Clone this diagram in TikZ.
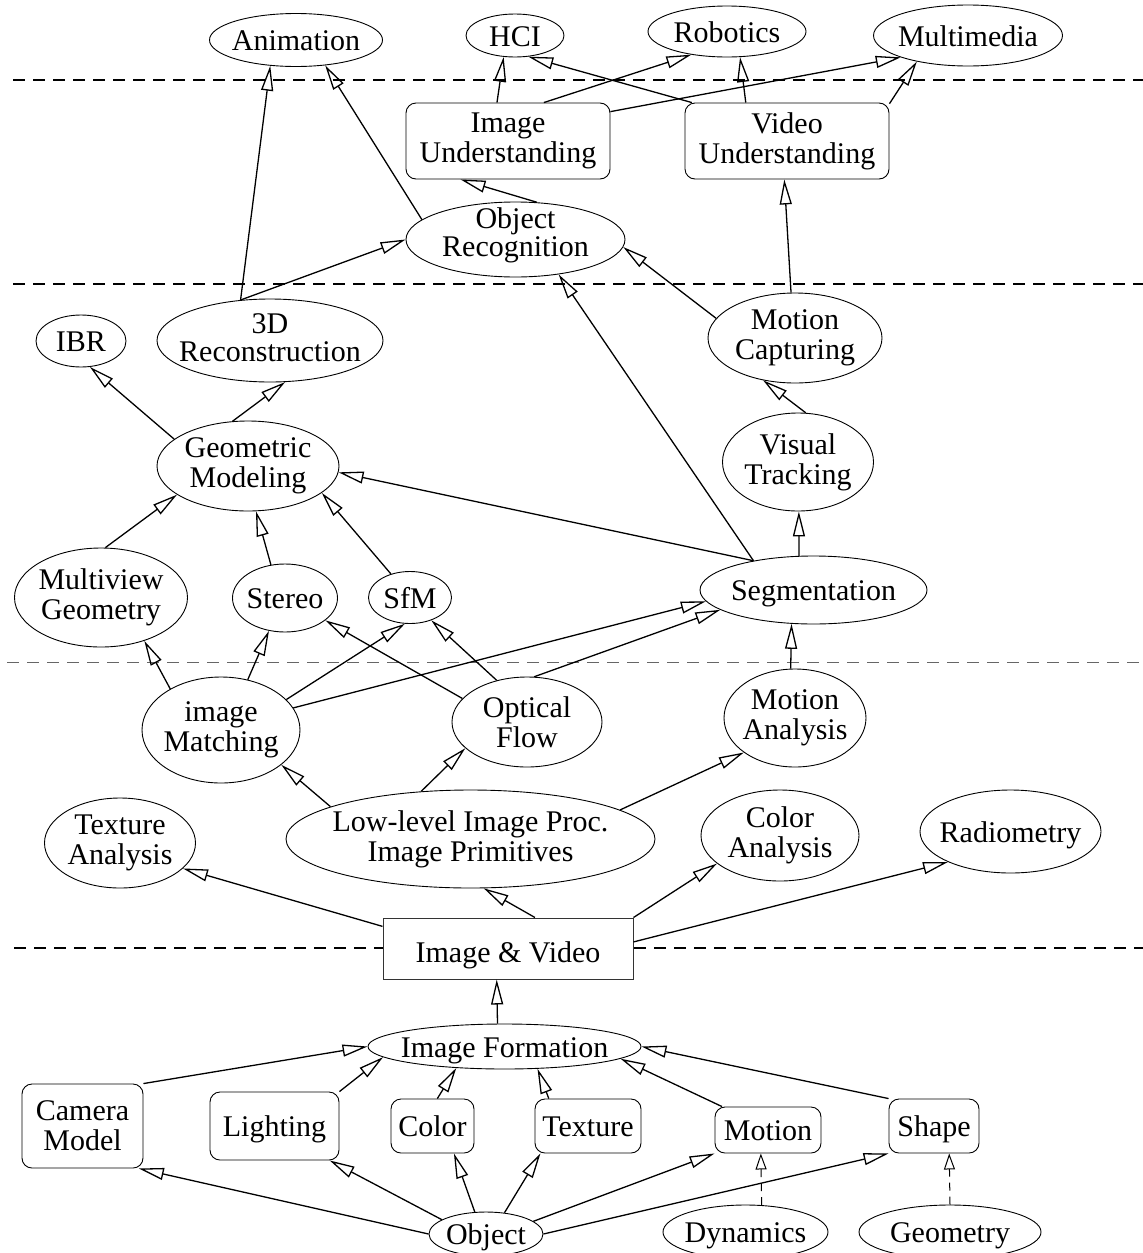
\documentclass[tikz,border=0pt]{standalone}
\usepackage{fontspec}
\setmainfont{Liberation Serif}
\usetikzlibrary{shapes.geometric,arrows.meta}
\begin{document}
\begin{tikzpicture}[x=1pt,y=-1pt,
  lab/.style={align=center, inner sep=0pt, font=\fontsize{30}{30}\selectfont},
  ov/.style={label={[lab]center:{#1}}},
  ov1/.style={label={[lab, text height=21pt, text depth=0pt]center:{#1}}},
  ell/.style={ellipse, draw, line width=0.9pt, fill=white, inner sep=0pt},
  rbox/.style={rectangle, rounded corners=10pt, draw, line width=0.9pt, fill=white, inner sep=0pt},
  sbox/.style={rectangle, draw=black!80, line width=1pt, fill=white, inner sep=0pt},
  sz/.style 2 args={minimum width=#1pt, minimum height=#2pt},
  arr/.style={line width=1.3pt, -{Triangle[open, length=25pt, width=12pt]}},
  darr/.style={line width=1pt, dash pattern=on 8pt off 6pt, -{Triangle[open, length=16pt, width=11pt]}},
  sep/.style={line width=1.2pt, dash pattern=on 12pt off 8pt},
]
\useasboundingbox (0,0) rectangle (1143,1253);

% layer separators
\draw[sep] (13,80) -- (1143,80);
\draw[sep] (13,284) -- (1143,284);
\draw[sep, black!60, line width=1pt] (7,662) -- (1143,662);
\draw[sep] (14,948) -- (1143,948);

% top row
\node[ell, sz={173}{53}, ov1={Animation}] (anim) at (296,40) {};
\node[ell, sz={98}{43}, ov1={HCI}] (hci) at (515,35.5) {};
\node[ell, sz={158}{51}, ov1={Robotics}] (robot) at (727,31.5) {};
\node[ell, sz={189}{61}, ov1={Multimedia}] (mm) at (968,35.5) {};

\node[rbox, sz={204}{76}, ov={Image\\Understanding}] (iu) at (508,141) {};
\node[rbox, sz={204}{76}, ov={Video\\Understanding}] (vu) at (787,141) {};
\node[ell, sz={219}{75}, label={[lab, yshift=4.5pt]center:{Object\\[-2pt]Recognition}}] (or) at (515.5,239.5) {};

% middle
\node[ell, sz={90}{52}, ov1={IBR}] (ibr) at (81,341) {};
\node[ell, sz={226}{83}, label={[lab, yshift=3pt]center:{3D\\[-2pt]Reconstruction}}] (d3) at (270,340.5) {};
\node[ell, sz={174}{90}, ov={Motion\\Capturing}] (mc) at (795,338) {};
\node[ell, sz={182}{90}, ov={Geometric\\Modeling}] (gm) at (248,466) {};
\node[ell, sz={151}{98}, ov={Visual\\Tracking}] (vt) at (798,462) {};
\node[ell, sz={173}{99}, ov={Multiview\\Geometry}] (mv) at (101,597.5) {};
\node[ell, sz={105}{68}, ov1={Stereo}] (st) at (285,598) {};
\node[ell, sz={83}{52}, ov1={SfM}] (sfm) at (410,597.5) {};
\node[ell, sz={227}{68}, ov1={Segmentation}] (seg) at (813.5,590) {};

% lower middle
\node[ell, sz={158}{106}, ov={image\\Matching}] (im) at (221,730) {};
\node[ell, sz={150}{90}, ov={Optical\\Flow}] (of) at (527,722) {};
\node[ell, sz={142}{98}, ov={Motion\\Analysis}] (ma) at (795,718) {};
\node[ell, sz={151}{90}, ov={Texture\\Analysis}] (ta) at (120,843) {};
\node[ell, sz={369}{98}, ov={Low-level Image Proc.\\Image Primitives}] (ll) at (470.5,839) {};
\node[ell, sz={158}{91}, ov={Color\\Analysis}] (ca) at (780,835.5) {};
\node[ell, sz={181}{83}, ov1={Radiometry}] (rad) at (1010.5,831.5) {};
\node[sbox, sz={250}{61}, label={[lab, text height=21pt, text depth=0pt, yshift=-3pt]center:{Image \& Video}}] (iv) at (508,948.5) {};

% bottom
\node[ell, sz={273}{45}, ov1={Image Formation}] (if) at (504.5,1046.5) {};
\node[rbox, sz={121}{84}, ov={Camera\\Model}] (cm) at (82.5,1126) {};
\node[rbox, sz={129}{68}, ov1={Lighting}] (li) at (274.5,1126) {};
\node[rbox, sz={83}{54}, ov1={Color}] (col) at (432.5,1126) {};
\node[rbox, sz={106}{54}, ov1={Texture}] (tex) at (588,1126) {};
\node[rbox, sz={106}{46}, ov1={Motion}] (mot) at (768,1130) {};
\node[rbox, sz={90}{54}, ov1={Shape}] (shp) at (934,1126) {};
\node[ell, sz={114}{44}, ov1={Object}] (obj) at (486,1234) {};
\node[ell, sz={165}{54}, ov1={Dynamics}] (dyn) at (745.5,1232) {};
\node[ell, sz={182}{54}, ov1={Geometry}] (geo) at (950,1232) {};

% connectors
\draw[arr] (iu.106) -- (hci.242);
\draw[arr] (vu.158) -- (hci.302);
\draw[arr] (iu.47) -- (robot.213);
\draw[arr] (vu.137) -- (robot.297);
\draw[arr] (iu.16) -- (mm.198);
\draw[arr] (vu.20) -- (mm.207);
\draw[arr] (or.60) -- (iu.219);
\draw[arr] (or.168) -- (anim.319);
\draw[arr] (d3.126) -- (anim.225);
\draw[arr] (d3.126) -- (or.180);
\draw[arr] (seg.154) -- (or.321);
\draw[arr] (mc.166) -- (or.356);
\draw[arr] (mc.95) -- (vu.266);
\draw[arr] (vt.81) -- (mc.233);
\draw[arr] (seg.113) -- (vt.271);
\draw[arr] (seg.154) -- (gm.356);
\draw[arr] (gm.160) -- (ibr.289);
\draw[arr] (gm.109) -- (d3.290);
\draw[arr] (mv.85) -- (gm.202);
\draw[arr] (st.113) -- (gm.280);
\draw[arr] (sfm.129) -- (gm.340);
\draw[arr] (im.141) -- (mv.315);
\draw[arr] (im.62) -- (st.244);
\draw[arr] (im.25) -- (sfm.259);
\draw[arr] (im.17) -- (seg.186);
\draw[arr] (of.160) -- (st.331);
\draw[arr] (of.126) -- (sfm.313);
\draw[arr] (of.81) -- (seg.192);
\draw[arr] (ma.95) -- (seg.237);
\draw[arr] (ll.167) -- (im.330);
\draw[arr] (ll.136) -- (of.203);
\draw[arr] (ll.11) -- (ma.214);
\draw[arr] (iv.170) -- (ta.338);
\draw[arr] (iv.49) -- (ll.285);
\draw[arr] (iv.north east) -- (ca.204);
\draw[arr] (iv.3) -- (rad.206);
\draw[arr] (if.107) -- (iv.250);
\draw[arr] (cm.north east) -- (if.180);
\draw[arr] (li.north east) -- (if.185);
\draw[arr] (col.80) -- (if.204);
\draw[arr] (tex.145) -- (if.326);
\draw[arr] (mot.153) -- (if.354);
\draw[arr] (shp.north west) -- (if.east);
\draw[arr] (obj.west) -- (cm.323);
\draw[arr] (obj.162) -- (li.328);
\draw[arr] (obj.117) -- (col.308);
\draw[arr] (obj.49) -- (tex.210);
\draw[arr] (obj.15) -- (mot.south west);
\draw[arr] (obj.east) -- (shp.south west);
\draw[darr] (dyn.59) -- (mot.253);
\draw[darr] (geo.north) -- (shp.299);
\end{tikzpicture}
\end{document}
